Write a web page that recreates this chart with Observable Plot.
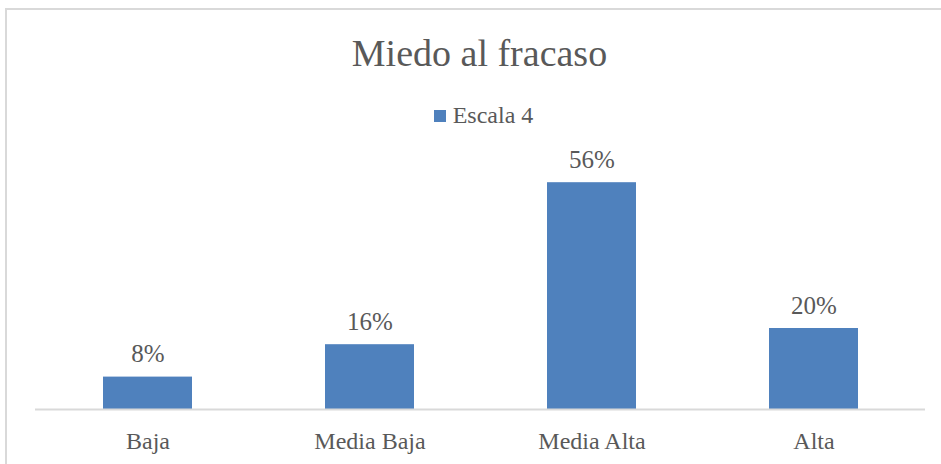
<!DOCTYPE html>
<html>
<head>
<meta charset="utf-8">
<script src="https://cdn.jsdelivr.net/npm/d3@7"></script>
<script src="https://cdn.jsdelivr.net/npm/@observablehq/plot@0.6"></script>
<style>
  body { margin: 0; background: #fff; }
  #wrap { position: relative; width: 941px; height: 464px; overflow: hidden; background: #fff; font-family: "Liberation Serif", serif; color: #595959; }
  #border { position: absolute; left: 5px; top: 8px; width: 1000px; height: 600px; border: 2px solid #d9d9d9; box-sizing: border-box; }
  #title { position: absolute; left: 9px; width: 941px; top: 31px; text-align: center; font-size: 38px; line-height: 44px; }
  #legend { position: absolute; left: 13px; width: 941px; top: 101px; text-align: center; font-size: 24px; line-height: 28px; }
  #legend .sw { display: inline-block; width: 12px; height: 12px; background: #4f81bd; margin-right: 7px; vertical-align: 1px; }
  #chart { position: absolute; left: 0; top: 135px; }
</style>
</head>
<body>
<div id="wrap">
  <div id="border"></div>
  <div id="title">Miedo al fracaso</div>
  <div id="legend"><span class="sw"></span>Escala 4</div>
  <div id="chart"></div>
</div>
<script>
const categories = ["Baja", "Media Baja", "Media Alta", "Alta"];
const values = [0.08, 0.16, 0.56, 0.20];
const seriesName = "Escala 4";

const data = categories.map((c, i) => ({category: c, value: values[i]}));

const plot = Plot.plot({
  width: 941,
  height: 329,
  marginLeft: 35,
  marginRight: 16,
  marginTop: 31,
  marginBottom: 55,
  style: {fontFamily: "Liberation Serif, serif", fontSize: "24px", color: "#595959", background: "transparent"},
  x: {domain: categories, paddingInner: 0.6, paddingOuter: 0.3, label: null, tickSize: 0, tickPadding: 22},
  y: {domain: [0, 0.6], axis: null},
  marks: [
    Plot.barY(data, {x: "category", y: "value", fill: "#4f81bd"}),
    Plot.ruleY([0], {stroke: "#d9d9d9", strokeWidth: 2}),
    Plot.text(data, {x: "category", y: "value", text: d => Math.round(d.value * 100) + "%", dy: -15, lineAnchor: "bottom", fill: "#595959", fontSize: 25})
  ]
});
document.getElementById("chart").appendChild(plot);
</script>
</body>
</html>
